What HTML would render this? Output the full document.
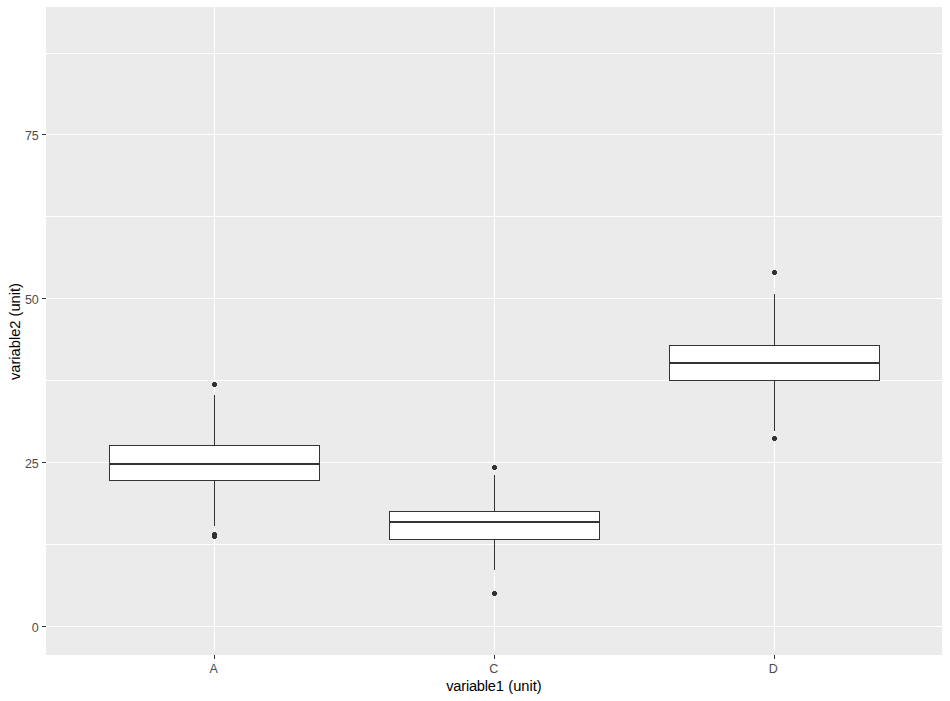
<!DOCTYPE html>
<html><head><meta charset="utf-8"><title>boxplot</title>
<style>
html,body{margin:0;padding:0;background:#fff;}
body{width:950px;height:701px;position:relative;overflow:hidden;font-family:"Liberation Sans",sans-serif;}
.a{position:absolute;}
.g{position:absolute;background:#fff;}
.k{position:absolute;background:#333;}
.t{position:absolute;color:#4d4d4d;font-size:12.5px;line-height:14px;white-space:nowrap;}
.ti{position:absolute;color:#000;font-size:14.67px;line-height:17px;white-space:nowrap;letter-spacing:0;}
.pt{position:absolute;width:5px;height:5px;border-radius:50%;background:#333;}
</style></head><body>
<div class="a" style="left:46px;top:7px;width:896px;height:648px;background:#ebebeb"></div>
<div class="g" style="left:46px;top:53px;width:896px;height:1px"></div>
<div class="g" style="left:46px;top:134px;width:896px;height:1px"></div>
<div class="g" style="left:46px;top:216px;width:896px;height:1px"></div>
<div class="g" style="left:46px;top:298px;width:896px;height:1px"></div>
<div class="g" style="left:46px;top:380px;width:896px;height:1px"></div>
<div class="g" style="left:46px;top:462px;width:896px;height:1px"></div>
<div class="g" style="left:46px;top:544px;width:896px;height:1px"></div>
<div class="g" style="left:46px;top:626px;width:896px;height:1px"></div>
<div class="g" style="left:214px;top:7px;width:1px;height:648px"></div>
<div class="g" style="left:494px;top:7px;width:1px;height:648px"></div>
<div class="g" style="left:774px;top:7px;width:1px;height:648px"></div>
<div class="k" style="left:214px;top:395px;width:1px;height:50px"></div>
<div class="k" style="left:214px;top:481px;width:1px;height:45px"></div>
<div class="a" style="left:109px;top:445px;width:209px;height:34px;border:1px solid #333;background:#fff"></div>
<div class="k" style="left:109px;top:463px;width:211px;height:2px"></div>
<div class="k" style="left:212px;top:383px;width:5px;height:3px"></div><div class="k" style="left:213px;top:382px;width:3px;height:5px"></div>
<div class="k" style="left:212px;top:533px;width:5px;height:3px"></div><div class="k" style="left:213px;top:532px;width:3px;height:5px"></div>
<div class="k" style="left:212px;top:535px;width:5px;height:3px"></div><div class="k" style="left:213px;top:534px;width:3px;height:5px"></div>
<div class="k" style="left:494px;top:475px;width:1px;height:36px"></div>
<div class="k" style="left:494px;top:540px;width:1px;height:30px"></div>
<div class="a" style="left:389px;top:511px;width:209px;height:27px;border:1px solid #333;background:#fff"></div>
<div class="k" style="left:389px;top:521px;width:211px;height:2px"></div>
<div class="k" style="left:492px;top:466px;width:5px;height:3px"></div><div class="k" style="left:493px;top:465px;width:3px;height:5px"></div>
<div class="k" style="left:492px;top:592px;width:5px;height:3px"></div><div class="k" style="left:493px;top:591px;width:3px;height:5px"></div>
<div class="k" style="left:774px;top:294px;width:1px;height:51px"></div>
<div class="k" style="left:774px;top:381px;width:1px;height:50px"></div>
<div class="a" style="left:669px;top:345px;width:209px;height:34px;border:1px solid #333;background:#fff"></div>
<div class="k" style="left:669px;top:362px;width:211px;height:2px"></div>
<div class="k" style="left:772px;top:271px;width:5px;height:3px"></div><div class="k" style="left:773px;top:270px;width:3px;height:5px"></div>
<div class="k" style="left:772px;top:437px;width:5px;height:3px"></div><div class="k" style="left:773px;top:436px;width:3px;height:5px"></div>
<div class="k" style="left:42px;top:626px;width:4px;height:1px"></div>
<div class="t" style="right:911.2px;top:620.5px;text-align:right">0</div>
<div class="k" style="left:42px;top:462px;width:4px;height:1px"></div>
<div class="t" style="right:911.2px;top:456.5px;text-align:right">25</div>
<div class="k" style="left:42px;top:298px;width:4px;height:1px"></div>
<div class="t" style="right:911.2px;top:292.5px;text-align:right">50</div>
<div class="k" style="left:42px;top:134px;width:4px;height:1px"></div>
<div class="t" style="right:911.2px;top:128.5px;text-align:right">75</div>
<div class="k" style="left:214px;top:655px;width:1px;height:4px"></div>
<div class="t" style="left:163.7px;width:100px;top:662px;text-align:center">A</div>
<div class="k" style="left:494px;top:655px;width:1px;height:4px"></div>
<div class="t" style="left:443.7px;width:100px;top:662px;text-align:center">C</div>
<div class="k" style="left:774px;top:655px;width:1px;height:4px"></div>
<div class="t" style="left:723.3000000000001px;width:100px;top:662px;text-align:center">D</div>
<div class="ti" style="left:446.2px;top:678.2px"><span style="letter-spacing:-0.22px">variable1</span><span style="display:inline-block;width:4.6px"></span><span style="letter-spacing:0px">(unit)</span></div>
<div class="ti" style="left:6.7px;top:379.6px;height:17px;transform:rotate(-90deg);transform-origin:0 0"><span style="letter-spacing:0px">variable2</span><span style="display:inline-block;width:4.1px"></span><span style="letter-spacing:0px">(unit)</span></div>
</body></html>
